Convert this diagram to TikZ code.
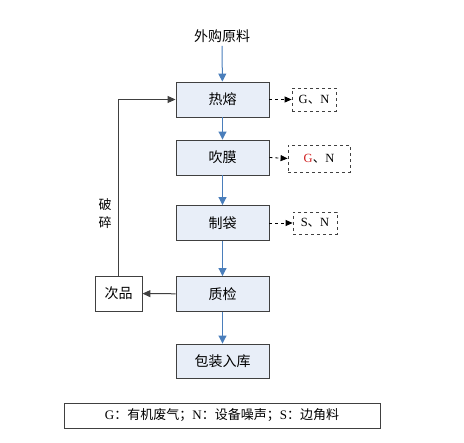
\documentclass[tikz,border=0pt]{standalone}
\usepackage{fontspec}
\setmainfont{Liberation Serif}
\newfontfamily\cjk{Noto Sans CJK SC}
\usetikzlibrary{arrows.meta}
\definecolor{boxfill}{HTML}{E8EEF8}
\definecolor{boxline}{HTML}{404040}
\definecolor{flowblue}{HTML}{4A7EBB}
\definecolor{gred}{HTML}{D02020}
\begin{document}
\begin{tikzpicture}[x=1pt,y=-1pt,
  stepbox/.style={draw=boxline,line width=0.9pt,fill=boxfill,minimum width=93pt,minimum height=35pt,inner sep=0pt,font=\cjk\fontsize{14}{16}\selectfont},
  plainbox/.style={draw=boxline,line width=0.9pt,fill=white,minimum width=47pt,minimum height=35pt,inner sep=0pt,font=\cjk\fontsize{14}{16}\selectfont},
  emitbox/.style={draw=boxline,line width=0.8pt,dashed,inner sep=0pt,font=\fontsize{12.5}{14}\selectfont},
  flow/.style={draw=flowblue,line width=1pt,-{Triangle[length=8pt,width=8pt]}},
  back/.style={draw=boxline,line width=1pt,-{Triangle[length=8pt,width=7pt]}},
  emit/.style={draw=black,line width=0.8pt,dashed,-{Triangle[length=7pt,width=6pt]}}]
\useasboundingbox (0,0) rectangle (464,443);
\node[font=\cjk\fontsize{14}{16}\selectfont] (src) at (222,36) {外购原料};
\node[stepbox] (rr) at (222.5,99.5) {热熔};
\node[stepbox] (cm) at (222.5,157.5) {吹膜};
\node[stepbox] (zd) at (222.5,223) {制袋};
\node[stepbox] (zj) at (222.5,294) {质检};
\node[stepbox,minimum height=34pt] (bz) at (222.5,361) {包装入库};
\node[plainbox] (cp) at (118.5,293.5) {次品};
\node[emitbox,minimum width=44pt,minimum height=23pt] (gn1) at (314,99.5) {G{\cjk 、}N};
\node[emitbox,minimum width=62pt,minimum height=27pt] (gn2) at (319,158.5) {\textcolor{gred}{G}{\cjk 、}N};
\node[emitbox,minimum width=44pt,minimum height=22pt] (sn) at (315,223) {S{\cjk 、}N};
\node[draw=boxline,line width=0.9pt,minimum width=316pt,minimum height=25pt,inner sep=0pt,font=\fontsize{13}{15}\selectfont] (leg) at (222,415.5) {G{\cjk ：有机废气；}N{\cjk ：设备噪声；}S{\cjk ：边角料}};
\node[font=\cjk\fontsize{13}{15}\selectfont,align=center] (ps) at (105,214) {破\\[3pt]碎};
\draw[flow] (src) -- (rr);
\draw[flow] (rr) -- (cm);
\draw[flow] (cm) -- (zd);
\draw[flow] (zd) -- (zj);
\draw[flow] (zj) -- (bz);
\draw[back] (zj) -- (cp);
\draw[back] (cp.north) |- (rr.west);
\draw[emit] (rr) -- (gn1);
\draw[emit] (cm.east) -- (gn2.west);
\draw[emit] (zd) -- (sn);
\end{tikzpicture}
\end{document}
